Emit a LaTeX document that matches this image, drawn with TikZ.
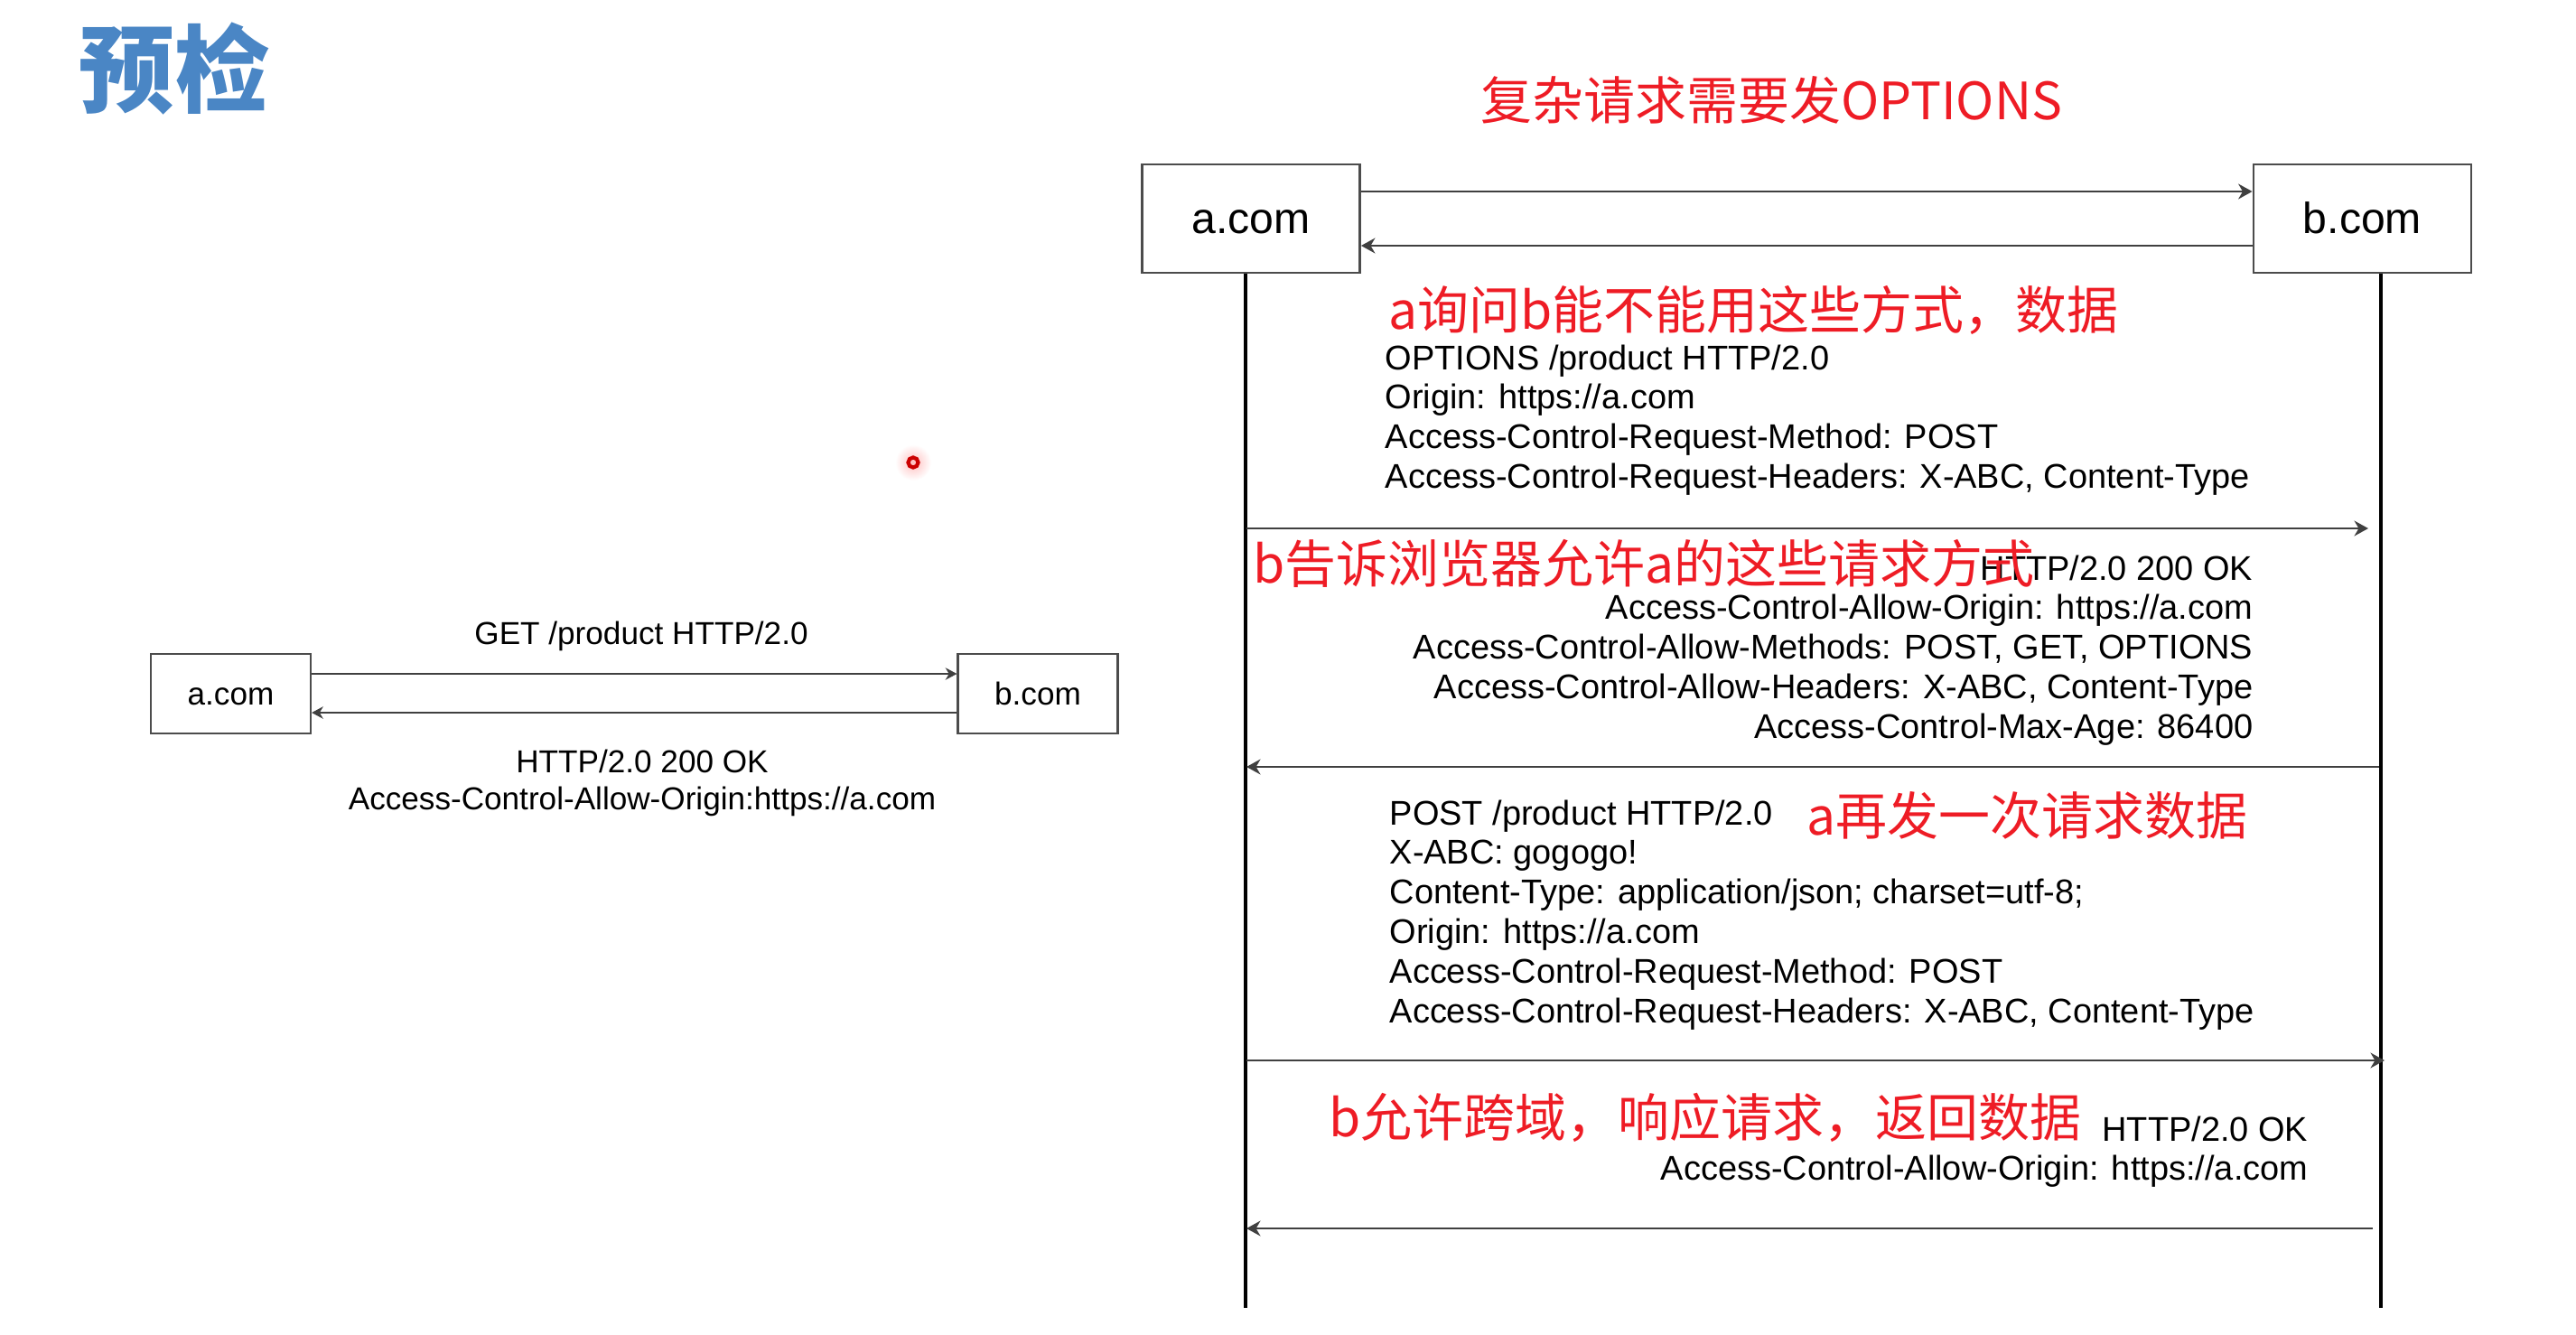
\documentclass[tikz,border=0pt]{standalone}
\usepackage{fontspec}
\setmainfont{Liberation Sans}
\newfontfamily\cjk{Noto Sans CJK SC}
\usetikzlibrary{arrows.meta,calc,positioning}
\definecolor{notered}{RGB}{238,28,37}
\definecolor{titleblue}{RGB}{74,134,197}
\tikzset{host/.style={draw=black!70,line width=0.8pt,minimum width=2.41cm,minimum height=1.2cm,inner sep=0pt,text height=10.5pt,text depth=0.9pt,font=\fontsize{13.7}{16}\selectfont},
  hostsm/.style={draw=black!70,line width=0.6pt,minimum width=1.77cm,minimum height=0.88cm,inner sep=0pt,text height=7.7pt,text depth=0.7pt,font=\fontsize{10}{12}\selectfont},
  msg/.style={-{Stealth[length=4.4pt,width=4.8pt,inset=1.4pt]},line width=0.8pt,black!75},
  msgsm/.style={-{Stealth[length=3.6pt,width=3.8pt,inset=1.1pt]},line width=0.6pt,black!75},
  life/.style={line width=0.9pt,black},
  note/.style={text=notered,inner sep=0pt,anchor=west,font=\cjk\fontsize{16.2}{19}\selectfont},
  hdr/.style={inner sep=0pt,font=\fontsize{10.8}{12.45}\selectfont},
  hdrsm/.style={inner sep=0pt,font=\fontsize{10}{11.67}\selectfont}}

\begin{document}
\begin{tikzpicture}[>=Stealth]
\useasboundingbox (0,0) rectangle (28.52,-14.78);
\node[inner sep=0pt,text=titleblue,font=\cjk\bfseries\fontsize{30}{34}\selectfont] (title) at (1.93,-0.76) {预检};

% simple request
\node[hostsm] (sa) at (2.555,-7.68) {a.com};
\node[hostsm] (sb) at (11.49,-7.68) {b.com};
\draw[msgsm] ([yshift=2.2mm]sa.east) -- ([yshift=2.2mm]sb.west);
\draw[msgsm] ([yshift=-2.1mm]sb.west) -- ([yshift=-2.1mm]sa.east);
\node[hdrsm,anchor=base] (get) at (7.10,-7.13) {GET /product HTTP/2.0};
\node[hdrsm,anchor=north,align=center] (ok) at (7.11,-8.295) {HTTP/2.0 200 OK\\Access-Control-Allow-Origin:https://a.com};

% pointer dot
\shade[inner color=red!25,outer color=white] (10.11,-5.12) circle (0.2);
\draw[red!80!black,line width=1.2pt] (10.11,-5.12) circle (0.055);

% preflight
\node[note] (head) at (16.39,-1.11) {复杂请求需要发OPTIONS};
\node[host] (ra) at (13.85,-2.42) {a.com};
\node[host] (rb) at (26.155,-2.42) {b.com};
\draw[msg] ([yshift=3mm]ra.east) -- ([yshift=3mm]rb.west);
\draw[msg] ([yshift=-3mm]rb.west) -- ([yshift=-3mm]ra.east);

\coordinate (la) at (13.79,-14.48);
\coordinate (lb) at (26.36,-14.48);
\draw[life] (ra.south -| la) -- (la);
\draw[life] (rb.south -| lb) -- (lb);

\coordinate (m1a) at (13.80,-5.85);
\coordinate (m1b) at (26.22,-5.85);
\coordinate (m2b) at (26.34,-8.49);
\coordinate (m2a) at (13.80,-8.49);
\coordinate (m3a) at (13.80,-11.74);
\coordinate (m3b) at (26.40,-11.74);
\coordinate (m4b) at (26.27,-13.60);
\coordinate (m4a) at (13.80,-13.60);
\draw[msg] (m1a) -- (m1b);
\draw[msg] (m2b) -- (m2a);
\draw[msg] (m3a) -- (m3b);
\draw[msg] (m4b) -- (m4a);

\node[hdr,anchor=north west,align=left] (opt) at (15.33,-3.81) {OPTIONS /product HTTP/2.0\\Origin: https://a.com\\Access-Control-Request-Method: POST\\Access-Control-Request-Headers: X-ABC, Content-Type};
\node[hdr,anchor=north east,align=right] (allow) at (24.95,-6.14) {HTTP/2.0 200 OK\\Access-Control-Allow-Origin: https://a.com\\Access-Control-Allow-Methods: POST, GET, OPTIONS\\Access-Control-Allow-Headers: X-ABC, Content-Type\\Access-Control-Max-Age: 86400};
\node[hdr,anchor=north west,align=left] (post) at (15.38,-8.85) {POST /product HTTP/2.0\\X-ABC: gogogo!\\Content-Type: application/json; charset=utf-8;\\Origin: https://a.com\\Access-Control-Request-Method: POST\\Access-Control-Request-Headers: X-ABC, Content-Type};
\node[hdr,anchor=north east,align=right] (resp) at (25.56,-12.35) {HTTP/2.0 OK\\Access-Control-Allow-Origin: https://a.com};

\node[note] (ask) at (15.37,-3.43) {a询问b能不能用这些方式，数据};
\node[note] (tell) at (13.87,-6.24) {b告诉浏览器允许a的这些请求方式};
\node[note] (again) at (20.00,-9.03) {a再发一次请求数据};
\node[note] (back) at (14.71,-12.37) {b允许跨域，响应请求，返回数据};
\end{tikzpicture}
\end{document}
